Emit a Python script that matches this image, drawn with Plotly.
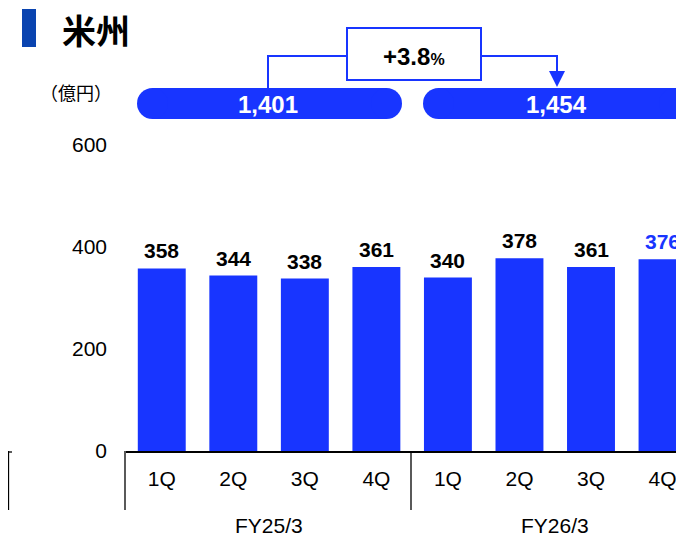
import plotly.graph_objects as go

# data
quarters = ["1Q", "2Q", "3Q", "4Q", "1Q", "2Q", "3Q", "4Q"]
sales = [358, 344, 338, 361, 340, 378, 361, 376]
fiscal_years = ["FY25/3", "FY26/3"]
fy_totals = ["1,401", "1,454"]
growth = "+3.8"

W, H = 684, 537
OFF = 8  # page body margin, positions below are measured on the screenshot
BLUE = "#1835ff"
DARK_BLUE = "#0a44b0"
FONT = "Liberation Sans, Arial, sans-serif"
JP_FONT = "Noto Sans CJK JP, sans-serif"


def px(x):
    return (x - OFF) / W


def py(y):
    return 1 - (y - OFF) / H


xs = list(range(len(sales)))
label_colors = ["black"] * (len(sales) - 1) + [BLUE]

fig = go.Figure()
fig.add_trace(go.Bar(
    x=xs, y=sales, width=0.67,
    marker=dict(color=BLUE, line=dict(width=0)),
    hoverinfo="skip",
))

shapes = []
# bracket lines under the axis
for x in [125, 411, 8.5]:
    shapes.append(dict(type="line", xref="paper", yref="paper",
                       x0=px(x), x1=px(x), y0=py(451), y1=py(510),
                       line=dict(color="black", width=1.3)))
shapes.append(dict(type="line", xref="paper", yref="paper",
                   x0=px(8), x1=px(12), y0=py(452), y1=py(452),
                   line=dict(color="black", width=1.3)))


# pill-shaped total boxes
def pill(x0, x1, y0, y1):
    r = (y1 - y0) / 2
    out = [dict(type="rect", xref="paper", yref="paper",
                x0=px(x0 + r), x1=px(x1 - r), y0=py(y1), y1=py(y0),
                fillcolor=BLUE, line=dict(width=0))]
    for cx in [x0 + r, x1 - r]:
        out.append(dict(type="circle", xref="paper", yref="paper",
                        x0=px(cx - r), x1=px(cx + r), y0=py(y1), y1=py(y0),
                        fillcolor=BLUE, line=dict(width=0)))
    return out


shapes += pill(137, 402, 88, 119)
shapes += pill(423, 690, 88, 119)

# growth connector
conn = f"M {px(268)} {py(88)} L {px(268)} {py(56)} L {px(346)} {py(56)} " \
       f"M {px(482)} {py(56)} L {px(557)} {py(56)} L {px(557)} {py(74)}"
shapes.append(dict(type="path", xref="paper", yref="paper", path=conn,
                   line=dict(color=BLUE, width=2)))
arrow = f"M {px(549)} {py(71)} L {px(565)} {py(71)} L {px(557)} {py(87)} Z"
shapes.append(dict(type="path", xref="paper", yref="paper", path=arrow,
                   fillcolor=BLUE, line=dict(width=0)))
shapes.append(dict(type="rect", xref="paper", yref="paper",
                   x0=px(347), x1=px(481), y0=py(80), y1=py(28),
                   fillcolor="white", line=dict(color=BLUE, width=2)))

# title marker
shapes.append(dict(type="rect", xref="paper", yref="paper",
                   x0=px(22), x1=px(36), y0=py(47), y1=py(9),
                   fillcolor=DARK_BLUE, line=dict(width=0)))

annotations = [
    dict(text="<b>米州</b>", x=px(60), y=py(29), xanchor="left", yanchor="middle",
         font=dict(family=JP_FONT, size=34, color="black")),
    dict(text="（億円）", x=px(114), y=py(92), xanchor="right", yanchor="middle",
         font=dict(family=JP_FONT, size=18, color="black")),
    dict(text=f"<b>{growth}</b><b><span style='font-size:16px'>%</span></b>",
         x=px(414), y=py(56), xanchor="center", yanchor="middle",
         font=dict(family=FONT, size=24, color="black")),
    dict(text=f"<b>{fy_totals[0]}</b>", x=px(268), y=py(104), xanchor="center", yanchor="middle",
         font=dict(family=FONT, size=24, color="white")),
    dict(text=f"<b>{fy_totals[1]}</b>", x=px(556), y=py(104), xanchor="center", yanchor="middle",
         font=dict(family=FONT, size=24, color="white")),
    dict(text=fiscal_years[0], x=1.5, xref="x", y=py(525), yanchor="middle",
         font=dict(family=FONT, size=21, color="black")),
    dict(text=fiscal_years[1], x=5.5, xref="x", y=py(525), yanchor="middle",
         font=dict(family=FONT, size=21, color="black")),
]
for a in annotations:
    a.setdefault("xref", "paper")
    a.setdefault("yref", "paper")

# value labels above bars
for x, v, c in zip(xs, sales, label_colors):
    annotations.append(dict(text=f"<b>{v}</b>", x=x, y=v, xref="x", yref="y",
                            yanchor="bottom", yshift=4,
                            font=dict(family=FONT, size=21, color=c)))

for a in annotations:
    a["showarrow"] = False

fig.update_layout(
    template="none",
    width=W, height=H, autosize=False,
    margin=dict(l=0, r=0, t=0, b=0, pad=0),
    paper_bgcolor="white", plot_bgcolor="white",
    showlegend=False,
    xaxis=dict(domain=[px(126), px(684)], range=[-0.5, 7.3],
               tickvals=xs, ticktext=quarters, automargin=False,
               tickfont=dict(family=FONT, size=21, color="black"),
               showline=True, linecolor="black", linewidth=2,
               showgrid=False, zeroline=False, ticks="", ticklabelstandoff=8),
    yaxis=dict(domain=[py(451), py(145)], range=[0, 600], automargin=False,
               tickvals=[0, 200, 400, 600],
               tickfont=dict(family=FONT, size=21, color="black"),
               showgrid=False, zeroline=False, showline=False,
               ticks="", ticklabelstandoff=18),
    shapes=shapes,
    annotations=annotations,
)

fig.write_html("out.html")
